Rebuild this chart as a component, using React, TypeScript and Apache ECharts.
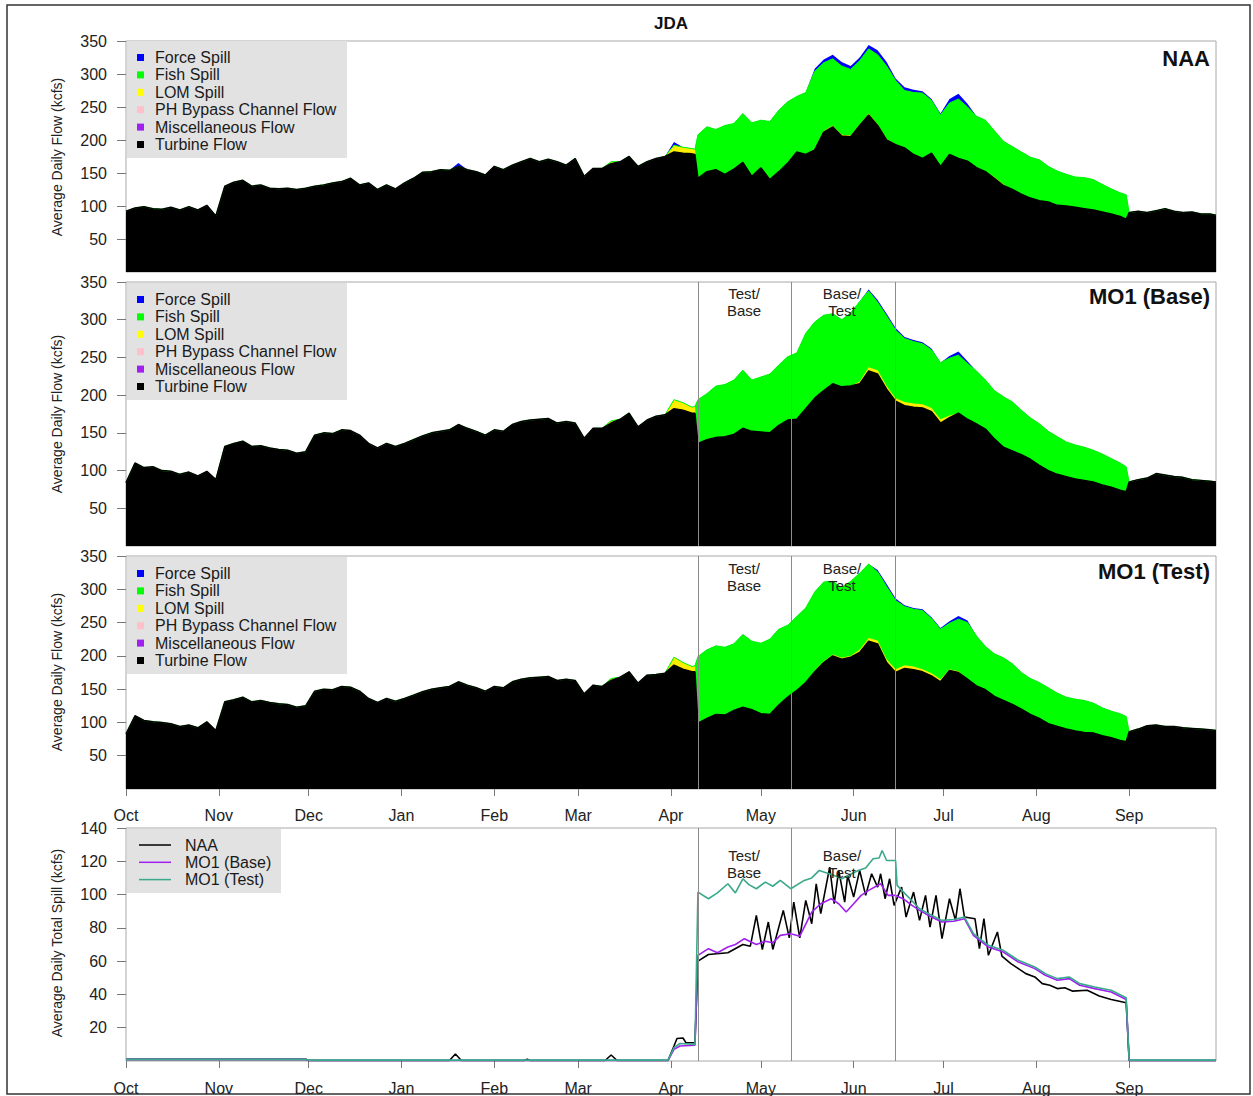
import React, { useEffect, useRef } from "react";
import * as echarts from "echarts";

// ---------- x grid (day index from 1 Oct) ----------
const DAYS = [
  0, 3, 6, 9, 12, 15, 18, 21, 24, 27, 30, 33, 36, 39, 42, 45, 48, 51, 54, 57,
  60, 63, 66, 69, 72, 75, 78, 81, 84, 87, 90, 93, 96, 99, 102, 105, 108, 111, 114, 117,
  120, 123, 126, 129, 132, 135, 138, 141, 144, 147, 150, 153, 156, 159, 162, 165, 168, 171, 174, 177,
  180, 183, 186, 189, 190,
  191, 194, 197, 200, 203, 206, 209, 212, 215, 218, 221, 224, 227, 230, 233, 236, 239, 242, 245, 248,
  251, 254, 257, 260, 263, 266, 269, 272, 275, 278, 281, 284, 287, 290, 293, 296, 299, 302, 305, 308,
  311, 314, 317, 320, 323, 326, 329, 332, 334,
  335, 338, 341, 344, 347, 350, 353, 356, 359, 362, 364,
];
const FISH_DAYS = [
  191, 194, 197, 200, 203, 206, 209, 212, 215, 218, 221, 224, 227, 230, 233, 236, 239, 242, 245, 248,
  251, 254, 257, 260, 263, 266, 269, 272, 275, 278, 281, 284, 287, 290, 293, 296, 299, 302, 305, 308,
  311, 314, 317, 320, 323, 326, 329, 332, 334,
];

// ---------- NAA ----------
const NAA_TURBINE = [
  92, 97, 99, 96, 95, 98, 94, 99, 94, 101,
  85, 130, 136, 139, 130, 132, 127, 126, 127, 125,
  127, 130, 132, 135, 137, 142, 132, 135, 125, 132,
  126, 135, 142, 151, 152, 155, 154, 160, 155, 152,
  147, 160, 155, 162, 167, 172, 167, 171, 167, 162,
  172, 145, 157, 157, 164, 167, 175, 160, 167, 172,
  175, 182, 180, 179, 178,
  142, 152, 155, 148, 156, 166, 145, 158, 140, 152,
  165, 182, 178, 185, 212, 220, 206, 205, 222, 238,
  222, 200, 193, 188, 178, 172, 180, 160, 178, 172,
  168, 158, 152, 142, 131, 125, 118, 112, 108, 106,
  101, 100, 98, 96, 94, 91, 88, 84, 80,
  90, 92, 90, 93, 96, 92, 90, 91, 88, 88, 86,
];
const NAA_FISH = [
  66, 68, 61, 74, 69, 74, 81, 72, 88, 93,
  93, 84, 94, 117, 103, 101, 104, 100, 96, 98,
  105, 110, 97, 87, 94, 99, 80, 78, 78, 90,
  82, 78, 78, 70, 65, 65, 64, 62, 62, 54,
  52, 48, 46, 47, 46, 42, 38, 36, 37,
];
const NAA_LOM: Record<number, number> = {
  162: 3, 183: 10, 186: 9, 189: 8, 190: 8,
  230: 2, 233: 2, 236: 2, 239: 2, 242: 2, 245: 2, 248: 2, 251: 2, 254: 2, 290: 2, 293: 2,
};
const NAA_FORCE: Record<number, number> = {
  111: 5, 183: 5, 230: 4, 233: 5, 236: 6, 239: 6, 242: 5, 245: 5, 248: 6, 251: 7, 254: 6,
  257: 3, 260: 5, 263: 4, 266: 3, 269: 2, 272: 2, 275: 6, 278: 8, 281: 5,
};

// ---------- MO1 (Base) ----------
const BASE_TURBINE = [
  84, 110, 104, 105, 100, 99, 95, 98, 93, 99,
  88, 132, 136, 139, 132, 133, 130, 128, 127, 123,
  125, 147, 150, 149, 154, 153, 147, 136, 130, 136,
  132, 136, 141, 146, 150, 152, 154, 161, 156, 152,
  147, 154, 152, 161, 165, 167, 168, 169, 163, 165,
  163, 143, 156, 156, 163, 168, 176, 158, 167, 172,
  174, 182, 180, 176, 176,
  136, 141, 144, 145, 148, 156, 152, 151, 150, 160,
  167, 168, 182, 196, 206, 215, 211, 212, 215, 232,
  228, 208, 192, 186, 184, 183, 178, 163, 170, 176,
  168, 162, 155, 142, 131, 126, 121, 115, 107, 100,
  95, 92, 89, 87, 85, 81, 78, 74, 72,
  85, 88, 90, 96, 94, 92, 91, 88, 87, 86, 85,
];
const BASE_FISH = [
  58, 61, 68, 69, 72, 77, 68, 73, 78, 80,
  84, 88, 100, 101, 100, 93, 89, 97, 106, 101,
  90, 93, 90, 84, 82, 80, 77, 75, 76, 77,
  74, 70, 65, 64, 67, 65, 59, 55, 55, 52,
  50, 46, 45, 44, 42, 41, 38, 36, 33,
];
const BASE_LOM: Record<number, number> = {
  162: 3, 183: 12, 186: 10, 189: 8, 190: 9,
  245: 3, 248: 5, 251: 5, 254: 4, 257: 4, 260: 5, 263: 5, 266: 5, 269: 5, 272: 5, 275: 3,
};
const BASE_FORCE: Record<number, number> = {
  248: 2, 251: 3, 254: 3, 257: 3, 260: 2, 263: 2, 266: 2, 269: 2, 275: 3, 278: 5, 281: 3,
};

// ---------- MO1 (Test) ----------
const TEST_TURBINE = [
  83, 110, 103, 101, 100, 98, 94, 96, 92, 101,
  88, 131, 134, 138, 131, 133, 130, 128, 127, 123,
  125, 147, 150, 149, 154, 153, 147, 136, 130, 136,
  132, 136, 141, 146, 150, 152, 154, 161, 156, 152,
  147, 154, 152, 161, 165, 167, 168, 169, 163, 165,
  163, 143, 156, 154, 163, 168, 176, 159, 171, 172,
  174, 186, 180, 176, 176,
  99, 106, 112, 111, 118, 123, 119, 113, 112, 126,
  138, 148, 160, 176, 190, 200, 195, 198, 205, 222,
  218, 190, 175, 181, 179, 176, 170, 161, 178, 175,
  165, 155, 149, 139, 133, 127, 120, 112, 106, 98,
  94, 90, 87, 85, 84, 80, 77, 73, 71,
  86, 90, 95, 96, 94, 94, 92, 91, 90, 89, 88,
];
const TEST_FISH = [
  100, 103, 103, 102, 100, 109, 103, 106, 113, 114,
  108, 111, 112, 118, 119, 110, 105, 112, 115, 111,
  103, 109, 103, 88, 86, 88, 82, 75, 69, 78,
  85, 75, 65, 64, 64, 61, 55, 54, 54, 54,
  50, 48, 48, 48, 45, 42, 40, 40, 38,
];
const TEST_LOM: Record<number, number> = {
  162: 3, 183: 12, 186: 10, 189: 8, 190: 9,
  230: 2, 233: 2, 236: 2, 239: 2, 242: 2, 245: 4, 248: 5, 251: 5, 254: 5, 257: 5, 260: 5,
  263: 5, 266: 4, 269: 4, 272: 4, 275: 2, 278: 2,
};
const TEST_FORCE: Record<number, number> = {
  251: 3, 254: 4, 257: 3, 260: 2, 263: 2, 266: 2, 269: 2, 272: 2, 275: 3, 278: 5, 281: 3,
};

// ---------- Total spill lines ----------
const NAA_SPILL_DAYS = [
  0, 60, 61, 108, 110, 112, 133, 134, 135, 160, 162, 164, 181, 183, 184, 186, 187, 190, 191, 194.5,
  201, 206, 208.5, 210.5, 212.5, 214.5, 216, 219.5, 221.5, 223, 225, 227, 229, 230.5, 232, 235, 236.5, 238, 240, 241,
  243, 245, 247, 249, 251, 252, 253.5, 255, 256.5, 259, 260.5, 263, 265, 267, 268.5, 270.5, 272.5, 275, 277, 278.5,
  280, 283.5, 285, 286.5, 288, 291, 292.5, 295.5, 298, 300.5, 303.5, 306, 308.5, 311, 313.5, 316, 321, 325, 329, 334,
  335, 364,
];
const NAA_SPILL = [
  1, 1, 0.3, 0.3, 4.2, 0.3, 0.3, 1, 0.3, 0.3, 3.6, 0.3, 0.3, 9, 13.5, 13.8, 11, 11, 60, 64,
  65, 70, 69, 87.5, 67, 83.5, 67, 90.5, 74, 95.5, 74, 96.5, 82.5, 106.5, 88.5, 116.5, 94.5, 114.5, 95.5, 111.5,
  98.5, 114.5, 99.5, 112.5, 104.5, 112.5, 97.5, 109.5, 93.5, 104.5, 86.5, 101.5, 84.5, 99.5, 80.5, 99.5, 73.5, 97.5, 84.5, 103.5,
  86.5, 85.5, 67.5, 85.5, 63.5, 77.5, 63, 58.5, 55.5, 52.5, 50.5, 46.5, 45.5, 43.5, 44, 42, 42.5, 39, 37, 35,
  0.3, 0.3,
];
const BASE_SPILL_DAYS = [
  0, 60, 61, 181, 183, 185, 190, 191, 194.5, 197.5, 201, 203.5, 206.5, 210.5, 213.5, 216, 218.5, 222, 225, 229,
  232, 235.5, 238, 240.5, 243, 245.5, 248, 252, 254.5, 257, 259.5, 262.5, 265, 268.5, 272.5, 276.5, 280, 283, 288, 293,
  298, 303.5, 307, 311, 315, 318.5, 323.5, 329, 334, 335, 364,
];
const BASE_SPILL = [
  1, 1, 0.3, 0.3, 7, 9, 9.5, 63.5, 67.5, 65, 68.5, 70, 73.5, 70, 72, 71, 75.5, 76.5, 75, 89.5,
  94.5, 97.5, 94.5, 89.5, 94.5, 99.5, 102.5, 106.5, 99.5, 99.5, 97.5, 93.5, 90.5, 87, 83.5, 84, 85.5, 75.5, 68.5, 65.5,
  59.5, 55.5, 51.5, 48.5, 49.5, 45.5, 43.5, 41.5, 37, 0.3, 0.3,
];
const TEST_SPILL_DAYS = [
  0, 60, 61, 181, 183, 185, 190, 191, 194.5, 197.5, 201, 203.5, 206, 208, 210.5, 213.5, 216, 218.5, 222, 226.5,
  229, 231.5, 236.5, 239, 244.5, 247, 249.5, 251.5, 252.5, 254, 257, 257.5, 265, 268.5, 272.5, 276.5, 280, 283, 288, 293,
  298, 303.5, 307, 311, 315, 318.5, 323.5, 329, 334, 335, 364,
];
const TEST_SPILL = [
  1, 1, 0.5, 0.5, 8, 10.5, 10, 101.5, 97.5, 101, 106.5, 101, 109.5, 106, 103.5, 107.5, 105, 108.5, 103.5, 108.5,
  110, 114.5, 111.5, 109.5, 114.5, 116, 121.5, 122, 126.5, 120.5, 120.5, 105.5, 91.5, 88, 84.5, 85, 86.5, 76.5, 69.5, 66.5,
  60.5, 56.5, 52.5, 49.5, 50.5, 46.5, 44.5, 42.5, 38, 0.5, 0.5,
];

// ---------- axes / labels ----------
const MONTH_TICKS = [0, 31, 61, 92, 123, 151, 182, 212, 243, 273, 304, 335];
const MONTH_LABELS = ["Oct", "Nov", "Dec", "Jan", "Feb", "Mar", "Apr", "May", "Jun", "Jul", "Aug", "Sep"];
const FLOW_TICKS = [50, 100, 150, 200, 250, 300, 350];
const SPILL_TICKS = [20, 40, 60, 80, 100, 120, 140];
const PERIOD_LINES = [191, 222, 257];
const PANEL_TITLES = ["NAA", "MO1 (Base)", "MO1 (Test)"];
const FLOW_LEGEND = [
  ["Force Spill", "#0000ff"],
  ["Fish Spill", "#00ff00"],
  ["LOM Spill", "#ffff00"],
  ["PH Bypass Channel Flow", "#ffc0cb"],
  ["Miscellaneous Flow", "#a020f0"],
  ["Turbine Flow", "#000000"],
];
const SPILL_LEGEND = [
  ["NAA", "#000000"],
  ["MO1 (Base)", "#a020f0"],
  ["MO1 (Test)", "#3aa88a"],
];

const FONT = "'Liberation Sans', Arial, Helvetica, sans-serif";
const GRIDS = [
  { left: 126, top: 41, width: 1090, height: 231 },
  { left: 126, top: 282, width: 1090, height: 264 },
  { left: 126, top: 556, width: 1090, height: 233 },
  { left: 126, top: 828, width: 1090, height: 233 },
];

function fromSparse(sp: Record<number, number>) {
  return DAYS.map((d) => sp[d] ?? 0);
}
function fromFish(vals: number[]) {
  return DAYS.map((d) => {
    const k = FISH_DAYS.indexOf(d);
    return k >= 0 ? vals[k] : 0;
  });
}

function periodMarkLine() {
  return {
    silent: true,
    symbol: ["none", "none"],
    label: { show: false },
    lineStyle: { color: "#8c8c8c", width: 1, type: "solid" },
    data: PERIOD_LINES.map((d) => ({ xAxis: d })),
  };
}

function stackedSeries(p: number, turbine: number[], lomS: Record<number, number>, fishV: number[], forceS: Record<number, number>) {
  const lom = fromSparse(lomS);
  const fish = fromFish(fishV);
  const force = fromSparse(forceS);
  const c1 = turbine;
  const c2 = c1.map((v, i) => v + lom[i]);
  const c3 = c2.map((v, i) => v + fish[i]);
  const c4 = c3.map((v, i) => v + force[i]);
  const mk = (name: string, color: string, vals: number[], lw: number) => ({
    type: "line",
    name,
    xAxisIndex: p,
    yAxisIndex: p,
    data: DAYS.map((d, i) => [d, vals[i]]),
    symbol: "none",
    silent: true,
    lineStyle: { width: lw, color },
    itemStyle: { color },
    areaStyle: { color, opacity: 1 },
  });
  const s: any[] = [
    mk("Force Spill", "#0000ff", c4, 0),
    mk("Fish Spill", "#00ff00", c3, 1),
    mk("LOM Spill", "#ffee00", c2, 0),
    mk("Turbine Flow", "#000000", c1, 1.5),
  ];
  if (p > 0) s[3].markLine = periodMarkLine();
  return s;
}

function buildOption() {
  const xAxis = GRIDS.map((_, i) => ({
    gridIndex: i,
    type: "value",
    min: 0,
    max: 364,
    splitLine: { show: false },
    axisLine: { show: false },
    axisTick: { show: i >= 2, customValues: MONTH_TICKS, length: 7, lineStyle: { color: "#777" } },
    axisLabel: {
      show: i >= 2,
      customValues: MONTH_TICKS,
      formatter: (v: number) => MONTH_LABELS[MONTH_TICKS.indexOf(Math.round(v))] ?? "",
      margin: i === 2 ? 18 : 19,
      fontSize: 16,
      color: "#222",
      fontFamily: FONT,
    },
  }));
  const yAxis = GRIDS.map((_, i) => {
    const ticks = i < 3 ? FLOW_TICKS : SPILL_TICKS;
    return {
      gridIndex: i,
      type: "value",
      min: 0,
      max: i < 3 ? 350 : 140,
      splitLine: { show: false },
      axisLine: { show: false },
      axisTick: { show: true, customValues: ticks, length: 9, lineStyle: { color: "#777" } },
      axisLabel: { customValues: ticks, margin: 19, fontSize: 16, color: "#222", fontFamily: FONT },
    };
  });

  const series: any[] = [
    ...stackedSeries(0, NAA_TURBINE, NAA_LOM, NAA_FISH, NAA_FORCE),
    ...stackedSeries(1, BASE_TURBINE, BASE_LOM, BASE_FISH, BASE_FORCE),
    ...stackedSeries(2, TEST_TURBINE, TEST_LOM, TEST_FISH, TEST_FORCE),
  ];
  const spillSets: [string, string, number[], number[]][] = [
    ["NAA", "#000000", NAA_SPILL_DAYS, NAA_SPILL],
    ["MO1 (Base)", "#a020f0", BASE_SPILL_DAYS, BASE_SPILL],
    ["MO1 (Test)", "#3aa88a", TEST_SPILL_DAYS, TEST_SPILL],
  ];
  spillSets.forEach(([name, color, xs, ys], k) => {
    const s: any = {
      type: "line",
      name,
      xAxisIndex: 3,
      yAxisIndex: 3,
      data: xs.map((x, i) => [x, ys[i]]),
      symbol: "none",
      silent: true,
      lineStyle: { width: 1.6, color },
      itemStyle: { color },
    };
    if (k === 2) s.markLine = periodMarkLine();
    series.push(s);
  });

  const graphic: any[] = [];
  graphic.push({
    type: "rect",
    shape: { x: 7, y: 5, width: 1243, height: 1089 },
    style: { fill: "none", stroke: "#333", lineWidth: 1.5 },
    silent: true,
  });
  graphic.push({
    type: "text",
    x: 671,
    y: 23,
    style: { text: "JDA", font: `bold 17px ${FONT}`, fill: "#111", align: "center", verticalAlign: "middle" },
  });
  const legendTops = [41, 283, 557];
  const titleYs = [58, 296, 571];
  const yTitleCenters = [157, 414, 672];
  legendTops.forEach((top, p) => {
    graphic.push({
      type: "rect",
      shape: { x: 127, y: top, width: 220, height: 117 },
      style: { fill: "#e2e2e2" },
      z: 10,
    });
    FLOW_LEGEND.forEach(([label, color], k) => {
      const cy = top + 16.5 + k * 17.4;
      graphic.push({
        type: "rect",
        shape: { x: 137, y: cy - 3.5, width: 7, height: 7 },
        style: { fill: color },
        z: 11,
      });
      graphic.push({
        type: "text",
        x: 155,
        y: cy,
        style: { text: label, font: `16px ${FONT}`, fill: "#1a1a1a", verticalAlign: "middle" },
        z: 11,
      });
    });
    graphic.push({
      type: "text",
      x: 1210,
      y: titleYs[p],
      style: { text: PANEL_TITLES[p], font: `bold 22px ${FONT}`, fill: "#111", align: "right", verticalAlign: "middle" },
      z: 11,
    });
    graphic.push({
      type: "text",
      x: 57,
      y: yTitleCenters[p],
      rotation: Math.PI / 2,
      style: { text: "Average Daily Flow (kcfs)", font: `14px ${FONT}`, fill: "#222", align: "center", verticalAlign: "middle" },
    });
  });
  graphic.push({
    type: "text",
    x: 57,
    y: 943,
    rotation: Math.PI / 2,
    style: { text: "Average Daily Total Spill (kcfs)", font: `14px ${FONT}`, fill: "#222", align: "center", verticalAlign: "middle" },
  });
  // spill legend
  graphic.push({ type: "rect", shape: { x: 127, y: 829, width: 154, height: 64 }, style: { fill: "#e2e2e2" }, z: 10 });
  SPILL_LEGEND.forEach(([label, color], k) => {
    const cy = 845 + k * 17.3;
    graphic.push({
      type: "line",
      shape: { x1: 139, y1: cy, x2: 171, y2: cy },
      style: { stroke: color, lineWidth: 1.5 },
      z: 11,
    });
    graphic.push({
      type: "text",
      x: 185,
      y: cy,
      style: { text: label, font: `16px ${FONT}`, fill: "#1a1a1a", verticalAlign: "middle" },
      z: 11,
    });
  });
  // period annotations
  [293, 568, 855].forEach((y) => {
    [
      [744, "Test/", "Base"],
      [842, "Base/", "Test"],
    ].forEach(([x, a, b]) => {
      graphic.push({
        type: "text",
        x: x as number,
        y,
        style: { text: a as string, font: `15px ${FONT}`, fill: "#222", align: "center", verticalAlign: "middle" },
        z: 12,
      });
      graphic.push({
        type: "text",
        x: x as number,
        y: y + 17,
        style: { text: b as string, font: `15px ${FONT}`, fill: "#222", align: "center", verticalAlign: "middle" },
        z: 12,
      });
    });
  });

  return {
    animation: false,
    backgroundColor: "#ffffff",
    textStyle: { fontFamily: FONT },
    grid: GRIDS.map((g) => ({ ...g, show: true, borderColor: "#a8a8a8", borderWidth: 1, backgroundColor: "transparent", containLabel: false })),
    xAxis,
    yAxis,
    series,
    graphic,
  };
}

export default function App() {
  const ref = useRef<HTMLDivElement>(null);
  useEffect(() => {
    if (!ref.current) return;
    const chart = echarts.init(ref.current, undefined, { renderer: "svg" });
    chart.setOption(buildOption() as any);
    return () => chart.dispose();
  }, []);
  return (
    <div
      ref={ref}
      style={{ position: "fixed", left: 0, top: 0, width: 1253, height: 1096, background: "#fff" }}
    />
  );
}
